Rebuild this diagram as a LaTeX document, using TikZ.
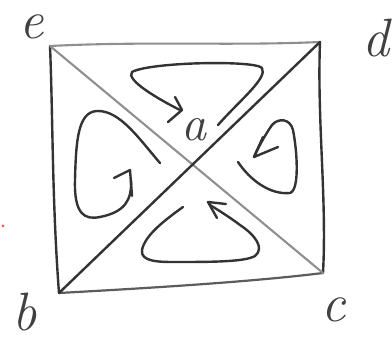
\documentclass[tikz,border=0pt]{standalone}
\begin{document}
\begin{tikzpicture}[x=1pt,y=-1pt, line cap=round, line join=round,
 dark/.style={draw=black!80, line width=2.4pt},
 mid/.style={draw=black!64, line width=2.2pt},
 light/.style={draw=black!44, line width=2.1pt},
 lbl/.style={font=\fontsize{54}{54}\selectfont\itshape, inner sep=0pt, text=black!75}]
\useasboundingbox (0,0) rectangle (392,339);
% corners
\coordinate (e) at (50,46);
\coordinate (d) at (320,42);
\coordinate (c) at (323,273);
\coordinate (b) at (59,293);
% square
\draw[light] (e) .. controls (150,41) and (230,46) .. (d);
\draw[dark] (d) .. controls (317,120) and (327,200) .. (c);
\draw[mid] (c) .. controls (250,282) and (150,288) .. (b);
\draw[dark] (b) .. controls (52,200) and (53,120) .. (e);
% diagonals
\draw[light] (e) -- (c);
\draw[dark] (b) -- (d);
% top loop
\draw[dark] (218,125) .. controls (240,100) and (268,78) .. (262,68)
  .. controls (255,60) and (150,62) .. (132,72)
  .. controls (125,80) and (160,100) .. (180,110);
\draw[dark] (175,97) -- (182,110) -- (168,122);
% left loop
\draw[dark] (160,163) .. controls (140,140) and (120,110) .. (97,111)
  .. controls (78,112) and (76,140) .. (75,180)
  .. controls (74,215) and (85,220) .. (100,217)
  .. controls (125,212) and (132,200) .. (131,180);
\draw[dark] (114,178) -- (130,170) -- (132,196);
% right loop
\draw[dark] (238,162) .. controls (250,180) and (270,195) .. (290,193)
  .. controls (300,190) and (297,150) .. (293,130)
  .. controls (290,118) and (278,118) .. (272,125)
  .. controls (265,135) and (258,148) .. (254,157);
\draw[dark] (263,137) -- (254,157) -- (278,147);
% bottom loop
\draw[dark] (183,207) .. controls (165,220) and (145,235) .. (142,250)
  .. controls (140,262) and (160,262) .. (175,262)
  .. controls (210,262) and (245,262) .. (255,256)
  .. controls (265,248) and (255,235) .. (240,225)
  .. controls (228,216) and (218,210) .. (210,205);
\draw[dark] (217,218) -- (208,202) -- (226,204);
% labels
\node[lbl] (le) at (32,27) {e};
\node[lbl] (ld) at (376,38) {d};
\node[lbl] (lb) at (25,312) {b};
\node[lbl] (lc) at (334,310) {c};
\node[lbl, font=\fontsize{50}{50}\selectfont\itshape] (la) at (194,130) {a};
% stray red dot
\fill[red!70] (3,226) circle (1.5);
\end{tikzpicture}
\end{document}
